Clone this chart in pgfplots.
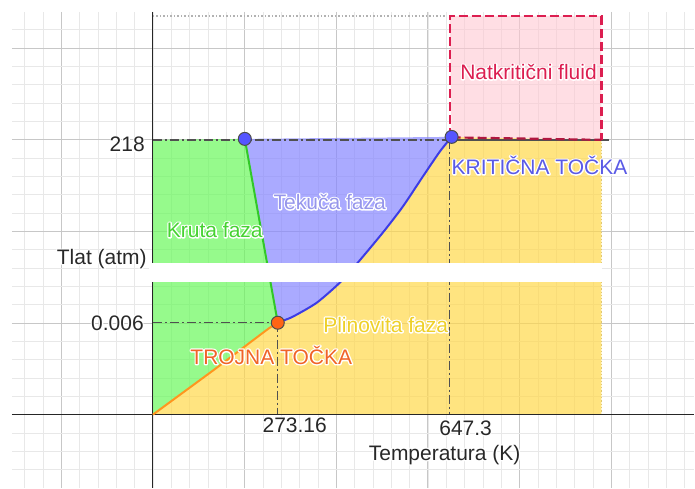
\documentclass[border=0pt]{standalone}
\usepackage{pgfplots}
\pgfplotsset{compat=1.18}
\usepackage{fontspec}
\setmainfont{Liberation Sans}
\definecolor{gfill}{RGB}{105,248,91}
\definecolor{bfill}{RGB}{134,134,255}
\definecolor{yfill}{RGB}{255,216,74}
\definecolor{pfill}{RGB}{255,200,210}
\definecolor{gline}{RGB}{50,200,40}
\definecolor{bline}{RGB}{60,60,230}
\definecolor{oline}{RGB}{255,150,30}
\definecolor{crim}{RGB}{220,30,80}
\definecolor{dd}{RGB}{80,80,80}
\definecolor{gtext}{RGB}{70,210,50}
\definecolor{btext}{RGB}{150,150,235}
\definecolor{ytext}{RGB}{238,208,40}
\definecolor{otext}{RGB}{240,100,40}
\definecolor{ktext}{RGB}{90,90,230}
\definecolor{lab}{RGB}{40,40,40}
\newcommand\halotext[4]{%
  \node[lbl,#2,text=white] at (#1) {\special{pdf:literal direct 2 Tr 2.6 w 1 j 1 1 1 RG}#4\special{pdf:literal direct 0 Tr}};
  \node[lbl,#2,text=#3] at (#1) {#4};
}
\tikzset{lbl/.style={font=\fontsize{21}{25}\selectfont,inner sep=0pt}}
\begin{document}
\begin{tikzpicture}
\begin{axis}[
  scale only axis, width=683pt, height=476pt,
  xmin=12, xmax=695, ymin=12, ymax=488, y dir=reverse,
  clip=false,
  axis line style={draw=none},
  major tick length=0pt, minor tick length=0pt,
  xticklabel={\mbox{}}, yticklabel={\mbox{}},
  every tick label/.append style={overlay, inner sep=0pt},
  xtick={61.25,153,244.75,336.5,428.25,520,611.75},
  ytick={48,139.75,231.5,323.25,415},
  minor xtick={24.55,42.9,...,695},
  minor ytick={29.65,48,...,488},
  grid=both,
  major grid style={draw=black!22, line width=0.8pt},
  minor grid style={draw=black!9, line width=0.6pt},
]
\path (axis cs:0,0) rectangle (axis cs:695,488);
% fills
\addplot[draw=none, fill=gfill, fill opacity=0.7] coordinates {(153,140)(245,139)(278,323)(270,328)(250,343)(217,368)(183,393)(153,415)} -- cycle;
\addplot[draw=none, fill=bfill, fill opacity=0.7] coordinates {(245,139)(452,137)(440,152)(423,177)(403,207)(383,233)(358,263)(340,283)(317,303)(293,317)(278,323)} -- cycle;
\addplot[draw=none, fill=yfill, fill opacity=0.7] coordinates {(153,415)(183,393)(217,368)(250,343)(270,328)(278,323)(293,317)(317,303)(340,283)(358,263)(383,233)(403,207)(423,177)(440,152)(452,137)(602,140)(602,415)} -- cycle;
\addplot[draw=none, fill=pfill, fill opacity=0.6] coordinates {(450,16)(602,16)(602,140)(452,137)} -- cycle;
% borders
\addplot[draw=black!30, dotted, line width=1.5pt] coordinates {(153,16)(445,16)};
\addplot[draw={rgb,255:red,225;green,200;blue,110}, dotted, line width=1.3pt] coordinates {(602,140)(602,415)};
\addplot[draw=dd, line width=1.5pt] coordinates {(452,140)(610,140)};
\addplot[draw=crim, dashed, dash pattern=on 9pt off 4pt, line width=2.2pt] coordinates {(450,137)(450,16)(602,16)(602,140)};
\addplot[draw=crim!80!black, dashed, dash pattern=on 9pt off 4pt, line width=2.2pt] coordinates {(452,137.5)(602,140)};
% dash-dot guide lines
\addplot[draw=dd, line width=1.3pt, dash pattern=on 9pt off 3pt on 2pt off 3pt] coordinates {(153,140)(452,140)};
\addplot[draw=dd, line width=1.3pt, dash pattern=on 9pt off 3pt on 2pt off 3pt] coordinates {(153,323)(278,323)};
\addplot[draw=dd, line width=1.3pt, dash pattern=on 9pt off 3pt on 2pt off 3pt] coordinates {(278,323)(278,415)};
\addplot[draw=dd, line width=1.3pt, dash pattern=on 9pt off 3pt on 2pt off 3pt] coordinates {(450,140)(450,415)};
% axes
\addplot[draw=black!85, line width=1.2pt] coordinates {(12,415)(695,415)};
\addplot[draw=black!85, line width=1.2pt] coordinates {(153,12)(153,488)};
% curves
\addplot[draw=gline, line width=2pt] coordinates {(245,139)(278,323)};
\addplot[draw=bline, line width=2pt, smooth, tension=0.4] coordinates {(278,323)(293,317)(317,303)(340,283)(358,263)(383,233)(403,207)(423,177)(440,152)(452,137)};
\addplot[draw=oline, line width=2pt, smooth, tension=0.4] coordinates {(153,415)(183,393)(217,368)(250,343)(270,328)(278,323)};
% white band
\addplot[draw=none, fill=white] coordinates {(149,263)(603,263)(603,282)(149,282)} -- cycle;
% points
\addplot[only marks, mark=*, mark size=6.5pt, mark options={fill={rgb,255:red,85;green,85;blue,255}, draw=black!70, line width=1pt}] coordinates {(245,139)(452,137)};
\addplot[only marks, mark=*, mark size=6.5pt, mark options={fill={rgb,255:red,255;green,100;blue,20}, draw=black!70, line width=1pt}] coordinates {(278,323)};
% label anchors
\coordinate (kr) at (axis cs:215,237.5);
\coordinate (te) at (axis cs:330,209.5);
\coordinate (pl) at (axis cs:386,332.5);
\coordinate (tr) at (axis cs:271.5,364.5);
\coordinate (kt) at (axis cs:540,174.5);
\coordinate (nf) at (axis cs:529,79.5);
\coordinate (tl) at (axis cs:147,264.5);
\coordinate (l218) at (axis cs:145,152);
\coordinate (l006) at (axis cs:144,330.5);
\coordinate (l273) at (axis cs:295,432.5);
\coordinate (l647) at (axis cs:466,435.5);
\coordinate (tk) at (axis cs:445,460.5);
\end{axis}
\halotext{kr}{anchor=base}{gtext}{Kruta faza}
\halotext{te}{anchor=base}{btext}{Tekuča faza}
\halotext{pl}{anchor=base}{ytext}{Plinovita faza}
\halotext{tr}{anchor=base}{otext}{TROJNA TOČKA}
\halotext{kt}{anchor=base}{ktext}{KRITIČNA TOČKA}
\halotext{nf}{anchor=base}{crim}{Natkritični fluid}
\halotext{tl}{anchor=base east}{lab}{Tlat (atm)}
\halotext{l218}{anchor=base east}{lab}{218}
\halotext{l006}{anchor=base east}{lab}{0.006}
\halotext{l273}{anchor=base}{lab}{273.16}
\halotext{l647}{anchor=base}{lab}{647.3}
\halotext{tk}{anchor=base}{lab}{Temperatura (K)}
\end{tikzpicture}
\end{document}
